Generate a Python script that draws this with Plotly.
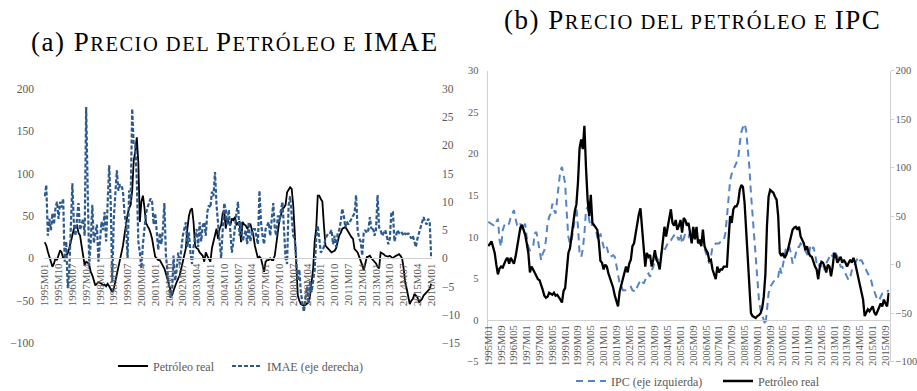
import plotly.graph_objects as go

# ---------------- data: panel (a) ----------------
# monthly, 1995M01 .. 2016M01
petroleo_a = [19, 15, 8, 2, -5, -10, -6, 0, -2, 4, 9.5, 7, 0, 2, 3.5, 6, 12, 20, 28, 35,
              38, 39, 30, 27, 15, 2, -8, -4, -5, -8, -16, -20, -26, -32, -30, -28, -29, -30, -32, -31,
              -33, -30, -33, -36, -40, -36, -28, -20, -12, -4, 6, 15, 28, 43, 52, 59, 63, 80, 115, 126,
              143, 113, 43, 67, 74, 60, 42, 38, 35, 30, 23, 12, 2, 0, -2, -2, -5, -8, -12, -18,
              -24, -30, -36, -44, -38, -32, -28, -24, -20, -12, -4, 4, 12, 35, 50, 57, 59, 43, 15, 12,
              11, 7, 5, 3, -4, 7, 3, 0, -4, 12, 20, 27, 35, 23, 35, 39, 53, 57, 35, 47,
              42, 39, 47, 45, 49, 39, 42, 43, 19, 43, 40, 39, 35, 38, 41, 34, 27, 15, 8, 0,
              2, 0, -8, -16, -4, -2, -2, 0, -2, -2, 3.5, 20, 35, 45, 51, 59, 60, 63, 78, 82,
              84, 82, 63, 30, -12, -44, -50, -54, -55, -56, -55, -54, -52, -44, -30, -12, 20, 35, 74, 74,
              70, 67, 40, 15, 13, 11, 8, 7, 8, 9, 12, 19, 27, 30, 35, 36, 37, 34, 31, 27,
              25, 23, 11, 9, 7, 2, -2, -8, -14, -5, 1.5, 2, 3, 0, -2, -4, -6, -10, -12, 7,
              6, 5, 3, 2, 2, 3, 2, 0, 2, 3, 4, 5, 3, 0, -12, -28, -36, -44, -54, -50,
              -48, -42, -44, -46, -52, -50, -48, -44, -42, -40, -38, -36, -30]
imae_a = [11, 13, 4, 7, 5, 8, 6, 9, 10, 7, 10, 9, 10.6, -0.6, 3, -5.3, -2, 8, 13.3, 6,
          4, 7, 9.8, 5, 6, 7, 4, 26.8, 12, -1.2, 3, 9.5, 2.7, 4.5, 6, -0.6, 3, 6.5, 5, 8.2,
          3, 9, 16.5, 10, -4.2, 7, 11, 15.6, 12, 13, 13, 11.8, 8, 6, 0, 12, 10, 26.5, 20, 20,
          14, 3, 1, -1.8, 2.5, 6, 8, 9, 10, 10.6, 10, 6, 8, 5, 1.5, 4.5, 2.5, 5, 9.8, 0.5,
          -3, -5, -7, -6, 0.5, -4, -2, 1, -1, 2, 4, 5.2, 6.4, 2, 4.6, 1, -1, 2, 4, 5.2,
          2, 6.4, 3, 5.8, 6.4, 4, 8.2, 9.4, 9, 11.8, 11, 15.3, 9.4, 5.2, 3, 0, 6.4, 9.8, 8.6, 6,
          8.6, 4.5, 1, 3, 6, 8, 10, 4, 6.4, 3, 4, 5, 2.5, 6.4, 3, 4, 5.2, 5.2, 4, 2.5,
          12, 6.4, 4, 2.5, 5.2, 5.8, 6.4, 4, 7, 9.8, 5.2, 4, 7.6, 6.4, 8.6, 10, 5.2, 0, -1, 9.4,
          11, 6.4, 4, 3.5, -1, -4, -2, -6, -8, -9.5, -7, -5, -8, -4, -6, -4, -2, 3.5, 5.8, 3.5,
          1, 1.5, 2, 3.5, 4, 4.5, 4.5, 5, 2.5, 4, 2, 4.5, 5, 6.5, 8.8, 7.5, 5.5, 6.5, 6, 6.5,
          7, 7.5, 8, 11.2, 5, 3.5, 3, 0.5, 4.5, 5, 4.5, 5, 7.3, 5.2, 5.5, 4, 5, 11.2, 5.5, 5,
          4, 4.5, 5, 4, 2.5, 3.5, 8.2, 8.2, 3, 4, 5, 4.5, 4.8, 4.5, 4, 4.5, 4, 4.5, 4, 3.5,
          4, 3, 2, 3.5, 4.5, 5.5, 6.5, 7.3, 6.5, 6, 7, 6.5, 0]

# ---------------- data: panel (b) ----------------
# monthly, 1995M01 .. 2015M11
ipc_b = [11.8, 11.7, 11.6, 11.4, 11.3, 11.8, 12.2, 9.6, 8.8, 10.8, 11.4, 11.6, 11.4, 11.6, 12.4, 12.8, 13.2, 12.2, 11.4, 11.2,
         11.6, 10.8, 11.2, 11.6, 10, 8.8, 8.4, 8.6, 8.8, 10.4, 10.6, 9.6, 8.4, 7.2, 8, 8.4, 9.6, 11.6, 12.4, 12.8,
         14, 13.2, 12.8, 14.8, 16.4, 18, 18.4, 17.4, 16.4, 12.8, 10, 9.2, 9.6, 10.8, 12.4, 13.6, 11.2, 8, 7.6, 8.5,
         10.4, 13.2, 13.6, 12, 11.2, 11.6, 11.4, 11.2, 10, 9.6, 10.4, 9.6, 8.8, 8.4, 8.8, 8, 7.6, 7.7, 7.8, 7.6,
         6.4, 5.2, 4.4, 4.1, 3.6, 3.6, 3.6, 3.7, 3.8, 4, 3.6, 3.5, 3.4, 4, 4.4, 4.8, 4.8, 4.4, 4.8, 5.4,
         5.6, 5.2, 6, 6.4, 7.2, 7.6, 7.2, 7.6, 8, 8.8, 8.4, 8.8, 9.2, 9.6, 9.6, 10, 10.2, 10.4, 10, 9.6,
         10.4, 9.2, 9.8, 10.4, 10.2, 10, 10.6, 11.2, 10.8, 10.4, 9.8, 9.6, 9.2, 9, 8.8, 8.6, 8, 7.4, 6.8, 7.6,
         8.8, 9, 9.2, 9.2, 9.2, 9.4, 9.6, 9.6, 10.4, 12.4, 14.4, 16.8, 17.6, 18, 18.4, 18.8, 19.4, 21.2, 22.6, 23.2,
         23.6, 22.8, 20.8, 18.4, 15.2, 12.4, 9.6, 6.8, 4.4, 2.4, 1.2, 0.6, 0.2, -0.6, 1.2, 3.2, 4, 4.4, 4.6, 4.8,
         4.8, 5.2, 6.4, 5.6, 6.8, 7.6, 8.8, 8.6, 8.8, 8, 6.8, 7.2, 8, 8.8, 8.8, 9.2, 9, 8.6, 8.4, 8,
         7.6, 8.8, 8.4, 8.8, 8, 6.8, 6.4, 6.8, 6.4, 6.8, 6, 6.8, 7.2, 7.6, 8, 7.6, 8.4, 8, 7.6, 7.2,
         6.4, 6.4, 6, 5.6, 5.2, 4.8, 5.2, 6, 6.4, 6.8, 7.2, 7.6, 7.2, 7.2, 6.8, 6.4, 6, 5.6, 5.4, 4.8,
         4, 3.4, 2.8, 2.4, 2.4, 2.8, 3.2, 3.2, 3.4, 3.4, 3.6]
petroleo_b = [19, 22, 24, 18, 12, 0, -10, -4, -2, -3, 2, 5, 7, 1, 7, 3, 1, 8, 19, 26,
              38, 41, 35, 31, 22, 12, -8, -2, -5, -9, -12, -15, -16, -20, -26, -32, -34, -33, -29, -30,
              -31, -29, -32, -31, -33, -36, -39, -27, -24, -5, 12, 17, 30, 44, 55, 62, 85, 120, 129, 119,
              143, 100, 67, 50, 72, 43, 41, 39, 36, 24, 4, 2, -5, 0, -2, -9, -14, -18, -24, -32,
              -38, -43, -28, -22, -15, -8, -2, -8, 1, 5, 19, 22, 33, 44, 52, 58, 36, 10, -2, 12,
              8, 10, -2, 5, 15, 5, 2, -5, 8, 26, 39, 29, 39, 46, 57, 43, 40, 46, 36, 40,
              46, 33, 48, 46, 40, 43, 30, 22, 39, 26, 39, 22, 26, 19, 36, 19, 15, 12, 4, 5,
              -5, -10, -15, -2, -8, -5, -5, -2, -2, -2, 26, 50, 43, 57, 60, 60, 64, 77, 82, 80,
              64, 33, -2, -33, -50, -53, -54, -55, -53, -52, -50, -45, -33, -10, 40, 70, 77, 75, 74, 70,
              67, 50, 12, 9, 12, 7, 10, 15, 22, 29, 36, 38, 39, 36, 39, 29, 25, 22, 15, 19,
              12, 9, 8, 2, -2, -5, -15, -2, 3, 2, -2, -8, 0, -2, -12, -2, 12, 9, 2, 5,
              8, 2, 5, 2, -2, 2, 5, 2, 7, 2, -5, -12, -19, -26, -36, -53, -50, -46, -48, -45,
              -43, -49, -52, -48, -43, -40, -43, -36, -40, -43, -29]


def month_labels(n):
    return [f"{1995 + i // 12}M{i % 12 + 1:02d}" for i in range(n)]


months_a = month_labels(len(petroleo_a))
months_b = month_labels(len(petroleo_b))
ticks_a = list(range(0, len(months_a), 9))
ticks_b = list(range(0, len(months_b), 8))

W, H = 917, 391
def px(x):
    return x / W
def py(y):
    return 1 - y / H

GRAY = "#595959"
LINE = "#d0d0d0"
FONT = "Liberation Serif"
BLUE_DARK = "#2c5a8e"
BLUE_LIGHT = "#5584c4"

xa = list(range(len(petroleo_a)))
xb = list(range(len(petroleo_b)))

fig = go.Figure()
fig.add_trace(go.Scatter(x=xa, y=petroleo_a, mode="lines", name="Petróleo real",
                         line=dict(color="black", width=1.8), xaxis="x", yaxis="y",
                         legend="legend"))
fig.add_trace(go.Scatter(x=xa, y=imae_a, mode="lines", name="IMAE (eje derecha)",
                         line=dict(color=BLUE_DARK, width=2.2, dash="4px,2px"),
                         xaxis="x", yaxis="y2", legend="legend3"))
fig.add_trace(go.Scatter(x=xb, y=ipc_b, mode="lines", name="IPC (eje izquierda)",
                         line=dict(color=BLUE_LIGHT, width=2, dash="7px,5px"),
                         xaxis="x2", yaxis="y3", legend="legend2"))
fig.add_trace(go.Scatter(x=xb, y=petroleo_b, mode="lines", name="Petróleo real",
                         line=dict(color="black", width=2.3), xaxis="x2", yaxis="y4",
                         legend="legend4"))

tickfont = dict(family=FONT, size=11.5, color=GRAY)
legfont = dict(family=FONT, size=12, color=GRAY)

def leg(x, y):
    return dict(orientation="h", x=px(x), y=py(y), xanchor="left", yanchor="middle",
                font=legfont, bgcolor="rgba(0,0,0,0)")

fig.update_layout(
    width=W, height=H,
    margin=dict(l=0, r=0, t=0, b=0, autoexpand=False),
    paper_bgcolor="white", plot_bgcolor="rgba(0,0,0,0)",
    font=dict(family=FONT, color=GRAY, size=11),
    xaxis=dict(domain=[px(44), px(432)], range=[-0.5, len(xa) - 0.5],
               anchor="free", position=py(258), showline=True, linecolor=LINE,
               showgrid=False, zeroline=False, tickmode="array",
               tickvals=ticks_a, ticktext=[months_a[i] for i in ticks_a],
               tickangle=-90, tickfont=dict(family=FONT, size=11, color=GRAY), ticks=""),
    yaxis=dict(domain=[py(343), py(89)], range=[-100, 200], dtick=50, anchor="x",
               showgrid=False, zeroline=False, showline=False, ticks="",
               tickfont=tickfont, ticklabelstandoff=9),
    yaxis2=dict(range=[-15, 30], dtick=5, overlaying="y", side="right", anchor="x",
                showgrid=False, zeroline=False, showline=False, ticks="",
                tickfont=tickfont, ticklabelstandoff=9),
    xaxis2=dict(domain=[px(487.5), px(889.5)], range=[-0.5, len(xb) - 0.5],
                anchor="free", position=py(320), showline=True, linecolor=LINE,
                showgrid=False, zeroline=False, tickmode="array",
                tickvals=ticks_b, ticktext=[months_b[i] for i in ticks_b],
                tickangle=-90, tickfont=dict(family=FONT, size=10.5, color=GRAY), ticks=""),
    yaxis3=dict(domain=[py(361.7), py(70.5)], range=[-5, 30], dtick=5, anchor="x2",
                showgrid=False, zeroline=False, showline=True, linecolor=LINE, ticks="",
                tickfont=dict(family=FONT, size=10.5, color=GRAY), ticklabelstandoff=6),
    yaxis4=dict(range=[-100, 200], dtick=50, overlaying="y3", side="right", anchor="x2",
                showgrid=False, zeroline=False, showline=True, linecolor=LINE,
                ticks="outside", ticklen=3, tickcolor=LINE,
                tickfont=dict(family=FONT, size=10.5, color=GRAY), ticklabelstandoff=0),
    legend=leg(113, 366),
    legend3=leg(227, 366),
    legend2=leg(571, 381),
    legend4=leg(718, 381),
    showlegend=True,
)

SC = "font-size:20.5px;letter-spacing:1.5px"
BIG = "letter-spacing:1.5px"
title_a = (f"<span style='{BIG}'>(a) P</span><span style='{SC}'>RECIO DEL </span>"
           f"<span style='{BIG}'>P</span><span style='{SC}'>ETRÓLEO E </span>"
           f"<span style='{BIG}'>IMAE</span>")
title_b = (f"<span style='{BIG}'>(b) P</span><span style='{SC}'>RECIO DEL PETRÓLEO E </span>"
           f"<span style='{BIG}'>IPC</span>")
fig.add_annotation(text=title_a, x=px(235), y=py(42), xref="paper", yref="paper",
                   showarrow=False, xanchor="center", yanchor="middle",
                   font=dict(family=FONT, size=27, color="black"))
fig.add_annotation(text=title_b, x=px(692), y=py(20), xref="paper", yref="paper",
                   showarrow=False, xanchor="center", yanchor="middle",
                   font=dict(family=FONT, size=27, color="black"))

fig.write_html("out.html")
